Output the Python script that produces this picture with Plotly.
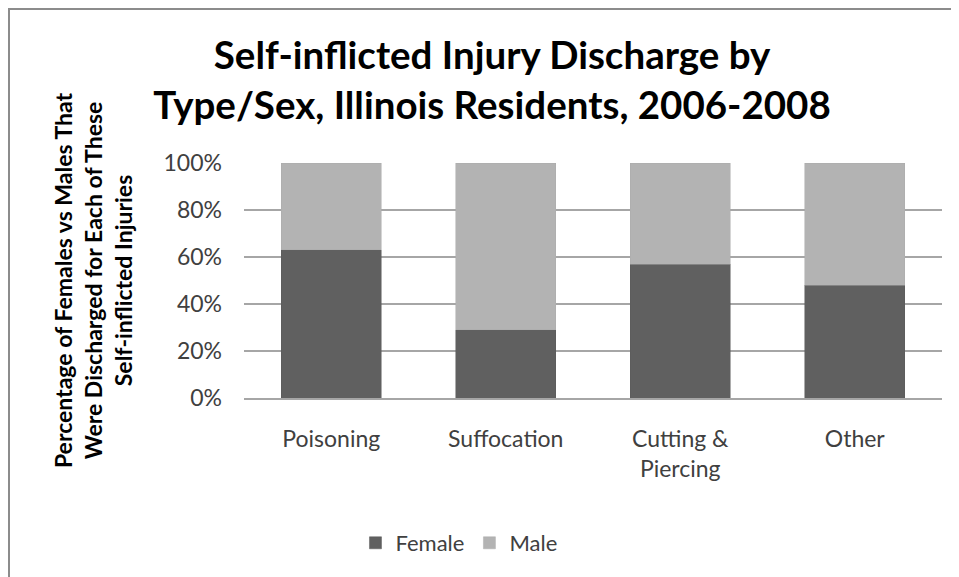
import plotly.graph_objects as go

categories = ["Poisoning", "Suffocation", "Cutting &<br>Piercing", "Other"]
female = [0.63, 0.29, 0.57, 0.48]
male = [round(1 - v, 2) for v in female]
tick_vals = [0, 0.2, 0.4, 0.6, 0.8, 1.0]
tick_text = ["0%", "20%", "40%", "60%", "80%", "100%"]

FONT = "Lato, 'Open Sans', sans-serif"

# figure is offset 8px by the page's body margin; sizes compensate for that
W, H = 951, 569
L, R, T, B = 236, 17, 155, 179
PW, PH = W - L - R, H - T - B

fig = go.Figure()
fig.add_trace(go.Bar(name="Female", x=categories, y=female,
                     marker=dict(color="#606060", line=dict(color="#5a5a5a", width=0.5))))
fig.add_trace(go.Bar(name="Male", x=categories, y=male,
                     marker=dict(color="#b3b3b3", line=dict(color="#acacac", width=0.5))))

fig.update_layout(
    barmode="stack",
    bargap=0.427,
    width=W, height=H,
    margin=dict(l=L, r=R, t=T, b=B),
    paper_bgcolor="white", plot_bgcolor="white",
    font=dict(family=FONT, color="#404040", size=22),
    title=dict(text="<b>Self-inflicted Injury Discharge by<br>Type/Sex, Illinois Residents, 2006-2008</b>",
               x=0.509, xanchor="center", y=1 - 61 / H, yanchor="middle",
               font=dict(family=FONT, size=38.5, color="black")),
    legend=dict(orientation="h", x=0.308, xanchor="center", y=-0.617, yanchor="middle",
                font=dict(family=FONT, size=22, color="#404040"), traceorder="normal"),
    showlegend=True,
)
fig.update_xaxes(showgrid=False, showline=True, linecolor="#a6a6a6", linewidth=1.5,
                 ticks="", ticklabelstandoff=20,
                 tickfont=dict(family=FONT, size=23, color="#404040"))
fig.update_yaxes(range=[0, 1], tickvals=tick_vals, ticktext=tick_text,
                 showgrid=True, gridcolor="#a6a6a6", gridwidth=1.5,
                 zeroline=False, showline=False, ticks="",
                 ticklabelstandoff=21,
                 tickfont=dict(family=FONT, size=23, color="#404040"),
                 title=dict(text="<b>Percentage of Females vs Males That<br>Were Discharged for Each of These<br>Self-inflicted Injuries</b>",
                            font=dict(family=FONT, size=23, color="black"), standoff=24))

fig.add_shape(type="rect", xref="paper", yref="paper",
              x0=(1 - L) / PW, x1=(W + 20 - L) / PW,
              y0=(PH - (H + 20 - T)) / PH, y1=(PH - (1 - T)) / PH,
              line=dict(color="#8c8c8c", width=2), fillcolor="rgba(0,0,0,0)", layer="below")

fig.write_html("out.html")
